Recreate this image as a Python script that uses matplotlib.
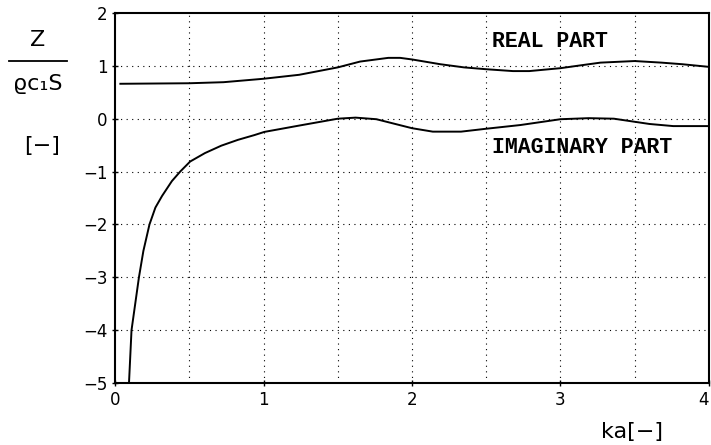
import matplotlib
matplotlib.use("Agg")
import matplotlib.pyplot as plt

real_x = [0.035, 0.5, 0.73, 1.0, 1.24, 1.5, 1.65, 1.84, 1.92, 2.0, 2.19, 2.35, 2.5, 2.68, 2.79,
          3.0, 3.14, 3.27, 3.5, 3.68, 3.82, 4.0]
real_y = [0.66, 0.67, 0.69, 0.755, 0.83, 0.97, 1.08, 1.15, 1.15, 1.12, 1.03, 0.97, 0.935, 0.90, 0.90,
          0.955, 1.01, 1.06, 1.09, 1.06, 1.03, 0.98]

imag_x = [0.093, 0.11, 0.16, 0.19, 0.231, 0.271, 0.316, 0.382, 0.438, 0.505, 0.605, 0.715, 0.827,
          0.938, 1.005, 1.24, 1.5, 1.62, 1.76, 2.0, 2.14, 2.33, 2.5, 2.73, 3.0, 3.19, 3.36, 3.6,
          3.76, 4.0]
imag_y = [-5.0, -4.0, -3.0, -2.5, -2.0, -1.68, -1.46, -1.18, -1.0, -0.81, -0.65, -0.51, -0.40,
          -0.31, -0.25, -0.13, 0.0, 0.02, -0.01, -0.18, -0.245, -0.245, -0.19, -0.12, -0.01, 0.01,
          0.0, -0.1, -0.14, -0.14]

x_ticks = [0, 1, 2, 3, 4]
y_ticks = [2, 1, 0, -1, -2, -3, -4, -5]
x_grid = [0.5, 1.0, 1.5, 2.0, 2.5, 3.0, 3.5]
y_grid = [1, 0, -1, -2, -3, -4]

fig = plt.figure(figsize=(7.11, 4.45), dpi=100)
ax = fig.add_axes([0.162, 0.139, 0.835, 0.832])

dot = (0, (1, 4))
for gx in x_grid:
    ax.axvline(gx, color="black", lw=0.8, ls=dot, zorder=1)
for gy in y_grid:
    ax.axhline(gy, color="black", lw=0.8, ls=dot, zorder=1)

ax.plot(real_x, real_y, color="black", lw=1.4, zorder=3, solid_joinstyle="round")
ax.plot(imag_x, imag_y, color="black", lw=1.4, zorder=3, solid_joinstyle="round")

ax.set_xlim(0, 4)
ax.set_ylim(-5, 2)
ax.set_xticks(x_ticks)
ax.set_yticks(y_ticks)
ax.set_xticklabels([str(v) for v in x_ticks])
ax.set_yticklabels([str(v).replace("-", "\u2212") for v in y_ticks])
ax.tick_params(direction="inout", length=5, width=1, labelsize=12, pad=3, colors="black")
ax.get_xticklabels()[-1].set_horizontalalignment("right")
for s in ax.spines.values():
    s.set_linewidth(1.5)

mono = "Liberation Mono"
ax.text(2.54, 1.45, "REAL PART", family=mono, fontsize=15.5, fontweight="bold",
        va="center", ha="left")
ax.text(2.54, -0.55, "IMAGINARY PART", family=mono, fontsize=15.5, fontweight="bold",
        va="center", ha="left")

fig.text(38 / 711, 1 - 40 / 445, "Z", fontsize=16, ha="center", va="center")
fig.add_artist(plt.Line2D([9 / 711, 67 / 711], [1 - 61 / 445, 1 - 61 / 445], color="black", lw=1.3))
fig.text(38 / 711, 1 - 84 / 445, "\u03f1c\u2081S", fontsize=16, ha="center", va="center")
fig.text(42 / 711, 1 - 146 / 445, "[\u2212]", fontsize=16, ha="center", va="center")
fig.text(632 / 711, 1 - 432 / 445, "ka[\u2212]", fontsize=16, ha="center", va="center")

fig.savefig("out.png", dpi=100)
